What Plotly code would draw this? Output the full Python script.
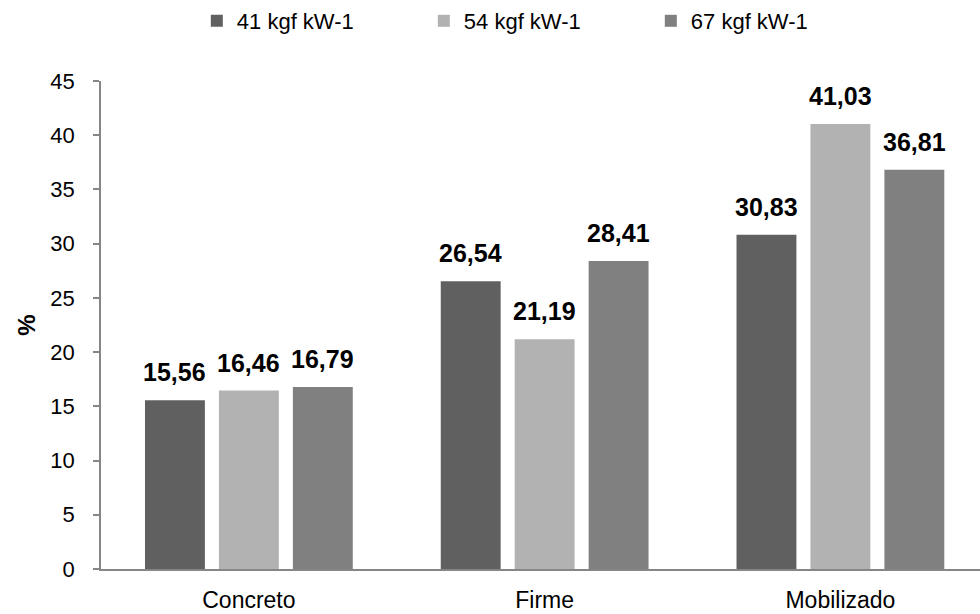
import plotly.graph_objects as go

categories = ["Concreto", "Firme", "Mobilizado"]
series_names = ["41 kgf kW-1", "54 kgf kW-1", "67 kgf kW-1"]
values_41 = [15.56, 26.54, 30.83]
values_54 = [16.46, 21.19, 41.03]
values_67 = [16.79, 28.41, 36.81]
y_ticks = [0, 5, 10, 15, 20, 25, 30, 35, 40, 45]

colors = ["#606060", "#b2b2b2", "#808080"]
FONT = "Liberation Sans, Arial, sans-serif"
BARGAP = 0.25


def fmt(v):
    return f"{v:.2f}".replace(".", ",")


series = [values_41, values_54, values_67]

fig = go.Figure()
for name, vals, col in zip(series_names, series, colors):
    fig.add_trace(go.Bar(
        x=categories, y=vals, name=name,
        marker=dict(color=col, line=dict(width=0)),
    ))

# value labels above each bar, centred on its slot within the group
slot = (1 - BARGAP) / len(series)
annotations = []
for s, vals in enumerate(series):
    offset = (s - (len(series) - 1) / 2) * slot
    for i, v in enumerate(vals):
        annotations.append(dict(
            x=i + offset, y=v, xref="x", yref="y",
            text=f"<b>{fmt(v)}</b>", showarrow=False,
            yanchor="bottom", yshift=12,
            font=dict(family=FONT, size=25, color="#000000"),
        ))

fig.update_layout(
    width=980, height=614,
    margin=dict(l=101, r=0, t=80, b=45),
    paper_bgcolor="white", plot_bgcolor="white",
    font=dict(family=FONT, size=22, color="#000000"),
    barmode="group", bargap=BARGAP, bargroupgap=0.19,
    showlegend=True,
    legend=dict(
        orientation="h", x=0.109, xanchor="left", y=1.123, yanchor="middle",
        font=dict(family=FONT, size=22, color="#000000"),
        entrywidth=182, entrywidthmode="pixels",
        traceorder="normal",
    ),
    annotations=annotations,
    xaxis=dict(
        type="category", range=[-0.5, 2.472],
        showline=True, linecolor="#868686", linewidth=1.5,
        ticks="", showgrid=False, zeroline=False,
        ticklabelstandoff=10,
        tickfont=dict(family=FONT, size=23, color="#000000"),
    ),
    yaxis=dict(
        range=[0, 45], tickvals=y_ticks, ticktext=[str(t) for t in y_ticks],
        showline=True, linecolor="#868686", linewidth=1.5,
        ticks="outside", ticklen=6, tickcolor="#868686", tickwidth=1.5,
        ticklabelstandoff=14,
        showgrid=False, zeroline=False,
        tickfont=dict(family=FONT, size=22, color="#000000"),
        title=dict(text="<b>%</b>", font=dict(family=FONT, size=24, color="#000000"), standoff=8),
    ),
)

fig.write_html("out.html")
